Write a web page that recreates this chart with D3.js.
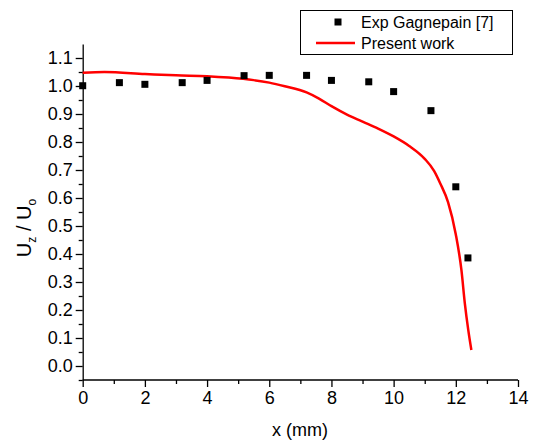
<!DOCTYPE html>
<html>
<head>
<meta charset="utf-8">
<script src="https://d3js.org/d3.v7.min.js"></script>
<style>
  body { margin: 0; background: #fff; }
  text { font-family: "Liberation Sans", Arial, sans-serif; fill: #000; }
</style>
</head>
<body>
<svg id="chart" width="534" height="445"></svg>
<script>
// measured points (Exp Gagnepain [7])
var expX = [0, 1.18, 2.0, 3.2, 4.0, 5.19, 6.0, 7.2, 8.0, 9.2, 10.0, 11.2, 12.0, 12.39];
var expY = [1.001, 1.012, 1.006, 1.012, 1.020, 1.037, 1.038, 1.038, 1.020, 1.015, 0.980, 0.912, 0.640, 0.386];

// simulation curve (Present work)
var simX = [0, 0.7, 2, 3, 4, 4.7, 5.5, 6, 6.5, 7.2, 7.6, 8.0, 8.5, 9.0, 9.5, 10, 10.5, 11, 11.3, 11.5, 11.75, 12.0, 12.18, 12.29, 12.4, 12.5];
var simY = [1.047, 1.05, 1.043, 1.038, 1.035, 1.03, 1.021, 1.012, 0.999, 0.977, 0.955, 0.928, 0.898, 0.873, 0.848, 0.82, 0.786, 0.74, 0.697, 0.652, 0.585, 0.47, 0.343, 0.224, 0.129, 0.057];

var xTicks = [0, 2, 4, 6, 8, 10, 12, 14];
var yTicks = [0.0, 0.1, 0.2, 0.3, 0.4, 0.5, 0.6, 0.7, 0.8, 0.9, 1.0, 1.1];

var legendLabels = ["Exp Gagnepain [7]", "Present work"];

var svg = d3.select("#chart");

var x = d3.scaleLinear().domain([0, 14]).range([82.7, 518]);
var y = d3.scaleLinear().domain([-0.05, 1.15]).range([380, 44]);

// x axis
var xAxis = svg.append("g")
    .attr("transform", "translate(0,380)")
    .call(d3.axisBottom(x).tickValues(xTicks).tickFormat(d3.format("d")).tickSize(7).tickPadding(4));
svg.append("g")
    .attr("transform", "translate(0,380)")
    .call(d3.axisBottom(x).tickValues(d3.range(1, 14, 2)).tickFormat("").tickSize(4).tickSizeOuter(0))
    .select(".domain").remove();

// y axis
var yAxis = svg.append("g")
    .attr("transform", "translate(82.7,0)")
    .call(d3.axisLeft(y).tickValues(yTicks).tickFormat(d3.format(".1f")).tickSize(7).tickPadding(3).tickSizeOuter(0));
var yMinor = d3.range(0, 23).map(function(i) { return -0.05 + 0.1 * i; }).filter(function(v) { return v < 1.15; });
svg.append("g")
    .attr("transform", "translate(82.7,0)")
    .call(d3.axisLeft(y).tickValues(yMinor).tickFormat("").tickSize(4))
    .select(".domain").remove();

svg.selectAll(".domain").attr("stroke", "#000").attr("stroke-width", 1.3);
svg.selectAll(".tick line").attr("stroke", "#000").attr("stroke-width", 1.3);
svg.selectAll(".tick text").style("font-size", "18px").style("font-family", "Liberation Sans, Arial, sans-serif");
xAxis.select(".domain").attr("d", "M82.7,0H518");

// axis titles
svg.append("text")
    .attr("x", 300).attr("y", 436)
    .attr("text-anchor", "middle")
    .style("font-size", "18px")
    .text("x (mm)");

var yl = svg.append("text")
    .attr("transform", "translate(31,228) rotate(-90)")
    .attr("text-anchor", "middle")
    .style("font-size", "20px");
yl.append("tspan").text("U");
yl.append("tspan").attr("dy", 5).style("font-size", "12px").text("z");
yl.append("tspan").attr("dy", -5).text(" / U");
yl.append("tspan").attr("dy", 5).style("font-size", "12px").text("o");

// simulation line
var simData = simX.map(function(d, i) { return [d, simY[i]]; });
var line = d3.line()
    .x(function(d) { return x(d[0]); })
    .y(function(d) { return y(d[1]); })
    .curve(d3.curveMonotoneX);
svg.append("path")
    .datum(simData)
    .attr("d", line)
    .attr("fill", "none")
    .attr("stroke", "#ff0000")
    .attr("stroke-width", 2.5);

// experimental squares
var expData = expX.map(function(d, i) { return [d, expY[i]]; });
svg.selectAll(".pt")
    .data(expData)
  .enter().append("rect")
    .attr("class", "pt")
    .attr("x", function(d) { return x(d[0]) - 3.5; })
    .attr("y", function(d) { return y(d[1]) - 3.5; })
    .attr("width", 7).attr("height", 7)
    .attr("fill", "#000");

// legend
var leg = svg.append("g");
leg.append("rect")
    .attr("x", 300.5).attr("y", 10.5)
    .attr("width", 212).attr("height", 44)
    .attr("fill", "#fff").attr("stroke", "#000").attr("stroke-width", 1);
leg.append("rect")
    .attr("x", 334.5).attr("y", 18.5).attr("width", 7).attr("height", 7).attr("fill", "#000");
leg.append("line")
    .attr("x1", 316).attr("x2", 355).attr("y1", 43).attr("y2", 43)
    .attr("stroke", "#ff0000").attr("stroke-width", 2.5);
leg.selectAll(".lt")
    .data(legendLabels)
  .enter().append("text")
    .attr("class", "lt")
    .attr("x", 361)
    .attr("y", function(d, i) { return 28 + i * 21; })
    .style("font-size", "16px")
    .text(function(d) { return d; });
</script>
</body>
</html>
